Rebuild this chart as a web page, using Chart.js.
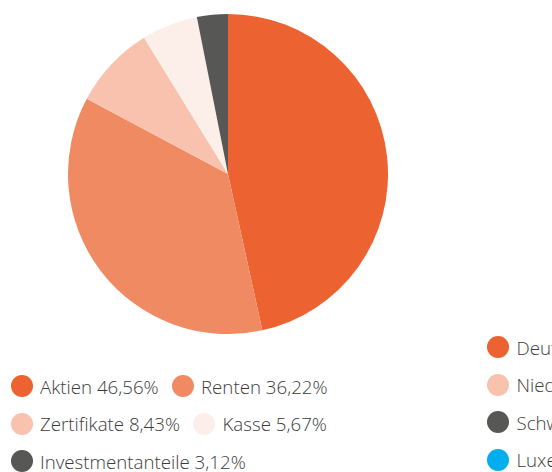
<!DOCTYPE html>
<html>
<head>
<meta charset="utf-8">
<script src="https://cdn.jsdelivr.net/npm/chart.js@4/dist/chart.umd.min.js"></script>
<style>
  html, body { margin:0; padding:0; width:552px; height:472px; overflow:hidden; background:#fff; }
  body { position:relative; font-family:"Open Sans", sans-serif; }
  #wrap { position:absolute; left:67.5px; top:13.5px; width:320px; height:320px; }
  .item { position:absolute; display:flex; align-items:center; white-space:nowrap; font-size:18.7px; font-weight:300; color:#3c3c3b; }
  .dot { width:22px; height:22px; border-radius:50%; margin-right:7.5px; flex:none; }
</style>
</head>
<body>
<div id="wrap"><canvas id="c"></canvas></div>
<div id="legend"></div>
<script>
const categories = ["Aktien", "Renten", "Zertifikate", "Kasse", "Investmentanteile"];
const shares = [46.56, 36.22, 8.43, 5.67, 3.12];
const colors = ["#EC6230", "#F08A62", "#F8C2AE", "#FCEEE9", "#575756"];

const countries = ["Deutschland", "Niederlande", "Schweiz", "Luxemburg"];
const countryColors = ["#EC6230", "#F8C2AE", "#575756", "#00AEEF"];

new Chart(document.getElementById('c'), {
  type: 'pie',
  data: { labels: categories, datasets: [{ data: shares, backgroundColor: colors, borderWidth: 0 }] },
  options: {
    responsive: true, maintainAspectRatio: false, animation: false,
    plugins: { legend: { display: false }, tooltip: { enabled: false } },
    layout: { padding: 0 }
  }
});

const fmt = v => v.toFixed(2).replace('.', ',') + '%';
const legend = document.getElementById('legend');
const pos = [[10.5,386],[171.5,386],[10.5,423.5],[193,423.5],[10.5,461]];
categories.forEach((c,i) => {
  const d = document.createElement('div');
  d.className = 'item';
  d.style.left = pos[i][0] + 'px';
  d.style.top = (pos[i][1] - 12) + 'px';
  d.style.height = '24px';
  d.innerHTML = '<span class="dot" style="background:' + colors[i] + '"></span><span>' + c + ' ' + fmt(shares[i]) + '</span>';
  legend.appendChild(d);
});
const cy = [347, 384.5, 422, 459.5];
countries.forEach((c,i) => {
  const d = document.createElement('div');
  d.className = 'item';
  d.style.left = '487px';
  d.style.top = (cy[i] - 12) + 'px';
  d.style.height = '24px';
  d.innerHTML = '<span class="dot" style="background:' + countryColors[i] + '"></span><span>' + c + '</span>';
  legend.appendChild(d);
});
</script>
</body>
</html>
